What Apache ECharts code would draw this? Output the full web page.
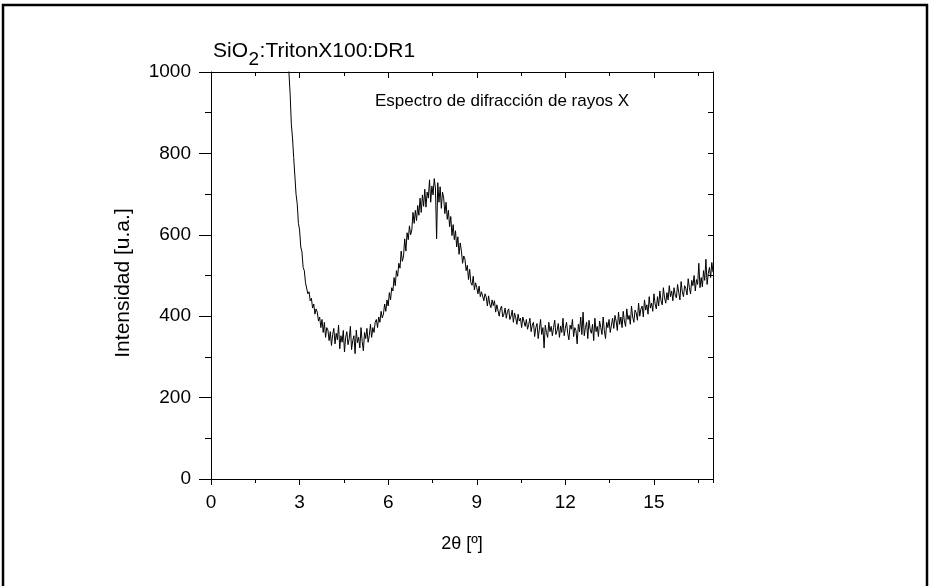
<!DOCTYPE html>
<html><head><meta charset="utf-8">
<script src="https://cdn.jsdelivr.net/npm/echarts@6/dist/echarts.min.js"></script>
<style>html,body{margin:0;padding:0;background:#fff}#c{width:929px;height:586px}</style>
</head><body><div id="c"></div>
<script>
// 2θ sampling grid of the scan
const angleStart = 2.6;
const angleStep = 0.04;
// measured intensity, one value per grid step (2.60 ... 17.00)
const intensity = [
1065, 998, 946, 872, 838, 790, 792, 700, 676, 628, 612, 570, 558, 520, 512, 482, 480, 455, 460, 438, 444, 420, 430, 405, 418,
410, 388, 398, 372, 392, 360, 385, 348, 372, 366, 340, 362, 328, 355, 370, 332, 358, 342, 378, 320, 352, 336, 365, 312, 348,
362, 330, 345, 375, 318, 340, 352, 308, 366, 335, 348, 322, 372, 338, 315, 360, 345, 370, 336, 352, 380, 348, 372, 360, 385,
392, 372, 398, 385, 412, 396, 405, 430, 412, 440, 425, 458, 440, 470, 462, 495, 475, 512, 498, 530, 518, 560, 535, 548, 590,
560, 605, 588, 622, 600, 612, 655, 628, 660, 635, 672, 648, 690, 655, 698, 670, 712, 668, 705, 690, 735, 680, 720, 698, 738,
715, 590, 728, 680, 718, 665, 705, 690, 652, 680, 638, 660, 620, 645, 598, 625, 588, 610, 570, 595, 552, 580, 560, 530, 548,
540, 512, 525, 490, 515, 482, 476, 498, 465, 482, 470, 455, 474, 448, 460, 462, 438, 455, 447, 425, 450, 430, 421, 440, 426,
438, 410, 428, 432, 400, 418, 425, 398, 405, 420, 395, 412, 418, 392, 400, 415, 385, 408, 396, 380, 405, 388, 395, 372, 398,
400, 375, 392, 368, 380, 395, 362, 378, 385, 350, 372, 382, 345, 368, 392, 355, 372, 322, 378, 360, 348, 385, 362, 375, 352,
372, 390, 355, 365, 382, 348, 376, 360, 395, 352, 370, 385, 358, 342, 378, 368, 392, 350, 372, 365, 332, 380, 362, 398, 355,
410, 352, 372, 385, 345, 390, 368, 358, 380, 340, 395, 362, 375, 350, 388, 372, 355, 398, 365, 345, 385, 372, 392, 360, 378,
395, 370, 402, 388, 365, 410, 380, 398, 372, 412, 388, 375, 418, 392, 402, 380, 425, 398, 385, 415, 408, 390, 432, 400, 418,
425, 398, 440, 415, 428, 405, 448, 420, 432, 412, 455, 430, 418, 448, 425, 462, 438, 428, 470, 445, 432, 458, 440, 475, 448,
462, 438, 470, 452, 445, 478, 458, 440, 485, 460, 448, 475, 468, 452, 492, 470, 455, 488, 475, 500, 462, 490, 478, 530, 470,
495, 472, 512, 488, 540, 478, 505, 520, 495, 532, 508
];
const xRange = [0, 17];
const yRange = [0, 1000];
const xMajor = 3, xMinor = 1.5;
const yMajor = 200, yMinor = 100;
const titleParts = ['SiO', '2', ':TritonX100:DR1'];
const noteText = 'Espectro de difracción de rayos X';
const xName = '2θ [º]';
const yName = 'Intensidad [u.a.]';

const FONT = '"Liberation Sans", Arial, sans-serif';
const data = intensity.map((v, i) => [Math.round((angleStart + i * angleStep) * 100) / 100, v]);

const cv = document.createElement('canvas').getContext('2d');
function tw(t, size) { cv.font = size + 'px ' + FONT; return cv.measureText(t).width; }
const tFs = 21, sFs = 19, tx0 = 213;
const tx1 = tx0 + tw(titleParts[0], tFs) + 0.5;
const tx2 = tx1 + tw(titleParts[1], sFs) + 0.5;
const yNameFs = 21;

const black = '#000';
const G = { left: 211, top: 72, width: 502, height: 407 };
const plain = v => String(v);
const tick = (inside, len) => ({ show: true, inside: inside, length: len, lineStyle: { color: black, width: 1 } });
const axLine = { show: true, onZero: false, lineStyle: { color: black, width: 1 } };
const noLine = { show: false, onZero: false };
const hiddenY = gi => ({ gridIndex: gi, type: 'value', show: false, min: yRange[0], max: yRange[1], axisLine: { onZero: false } });

const chart = echarts.init(document.getElementById('c'), null, { renderer: 'canvas' });
chart.setOption({
  animation: false,
  backgroundColor: '#fff',
  grid: [0, 1, 2, 3].map(() => Object.assign({}, G)),
  xAxis: [
    { gridIndex: 0, type: 'value', position: 'bottom', min: xRange[0], max: xRange[1], interval: xMajor,
      axisLine: axLine, axisTick: tick(false, 6),
      axisLabel: { color: black, fontSize: 19, fontFamily: FONT, margin: 14, showMaxLabel: false, formatter: plain },
      splitLine: { show: false },
      name: xName, nameLocation: 'middle', nameGap: 56,
      nameTextStyle: { color: black, fontSize: 18, fontFamily: FONT } },
    { gridIndex: 1, type: 'value', position: 'bottom', min: xRange[0], max: xRange[1], interval: xMinor,
      axisLine: noLine, axisTick: tick(false, 4), axisLabel: { show: false }, splitLine: { show: false } },
    { gridIndex: 2, type: 'value', position: 'top', min: xRange[0], max: xRange[1], interval: xMajor,
      axisLine: axLine, axisTick: tick(true, 6), axisLabel: { show: false }, splitLine: { show: false } },
    { gridIndex: 3, type: 'value', position: 'top', min: xRange[0], max: xRange[1], interval: xMinor,
      axisLine: noLine, axisTick: tick(true, 4), axisLabel: { show: false }, splitLine: { show: false } }
  ],
  yAxis: [
    { gridIndex: 0, type: 'value', position: 'left', min: yRange[0], max: yRange[1], interval: yMajor,
      axisLine: axLine, axisTick: tick(false, 12),
      minorTick: { show: true, splitNumber: 2, length: 6, lineStyle: { color: black } },
      axisLabel: { color: black, fontSize: 19, fontFamily: FONT, margin: 20, formatter: plain },
      splitLine: { show: false }, minorSplitLine: { show: false } },
    { gridIndex: 1, type: 'value', position: 'right', min: yRange[0], max: yRange[1], interval: yMinor,
      axisLine: axLine, axisTick: tick(true, 5), axisLabel: { show: false }, splitLine: { show: false } },
    hiddenY(2), hiddenY(3)
  ],
  series: [{
    type: 'line', xAxisIndex: 0, yAxisIndex: 0, data: data,
    showSymbol: false, symbol: 'none', clip: true,
    lineStyle: { color: black, width: 1 }
  }],
  graphic: [
    { type: 'rect', shape: { x: 3, y: 5, width: 924, height: 620 },
      style: { fill: 'none', stroke: black, lineWidth: 2.5 }, silent: true },
    { type: 'text', x: tx0, y: 51, style: { text: titleParts[0], font: tFs + 'px ' + FONT, fill: black, verticalAlign: 'middle' } },
    { type: 'text', x: tx1, y: 60, style: { text: titleParts[1], font: sFs + 'px ' + FONT, fill: black, verticalAlign: 'middle' } },
    { type: 'text', x: tx2, y: 51, style: { text: titleParts[2], font: tFs + 'px ' + FONT, fill: black, verticalAlign: 'middle' } },
    { type: 'text', x: 123, y: 283, rotation: Math.PI / 2,
      style: { text: yName, font: yNameFs + 'px ' + FONT, fill: black, align: 'center', verticalAlign: 'middle' } },
    { type: 'text', x: 375, y: 101, style: { text: noteText, font: '17px ' + FONT, fill: black, verticalAlign: 'middle' } }
  ]
});
</script>
</body></html>
